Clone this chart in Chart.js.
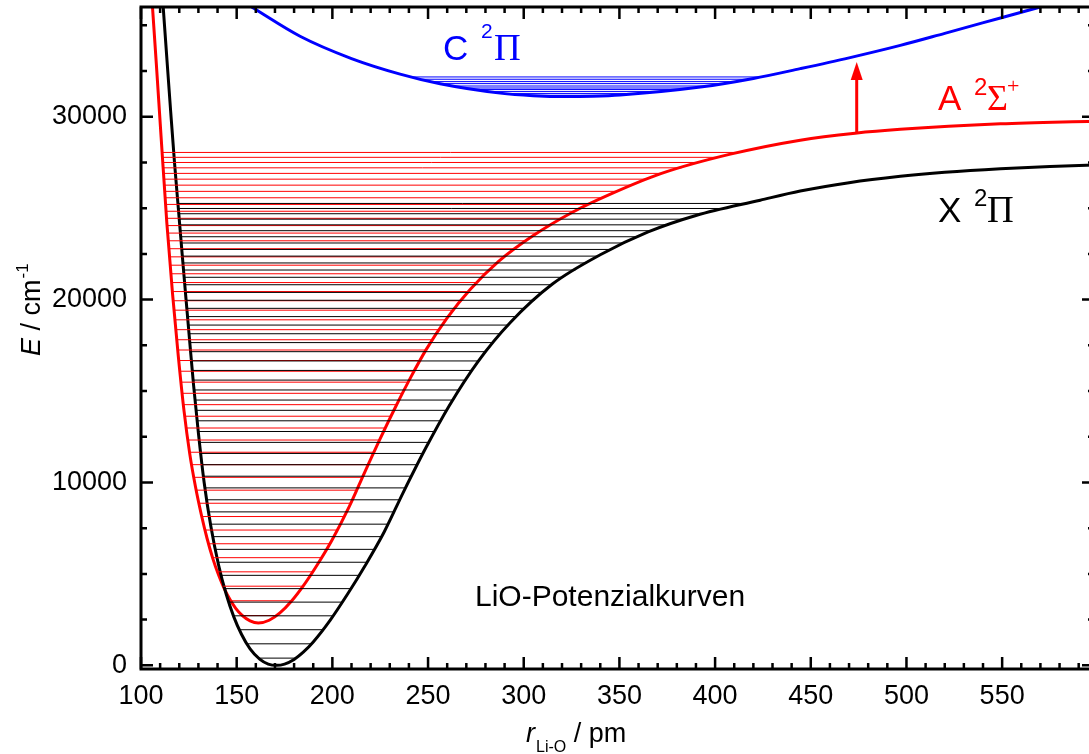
<!DOCTYPE html>
<html>
<head>
<meta charset="utf-8">
<script src="https://cdn.jsdelivr.net/npm/chart.js@4.4.1/dist/chart.umd.min.js"></script>
<style>
  html, body { margin: 0; padding: 0; background: #fff; overflow: hidden; }
  #wrap { position: relative; width: 1100px; height: 754px; }
</style>
</head>
<body>
<div id="wrap"><canvas id="chart" width="1100" height="754"></canvas></div>
<script>
// --------------------
// Potential curves (r in pm, E in cm^-1)
// --------------------
const xStateR = [111.6, 113.5, 115.5, 117.5, 119.5, 121.5, 123.5, 125.5, 127.5, 130.0, 133.0, 136.5, 140.5, 144.5, 148.5, 152.5, 157.0, 162.0, 166.5, 170.9,
  175.0, 180.0, 184.8, 190.0, 198.8, 208.3, 217.0, 227.0, 237.0, 249.0, 261.0, 276.0, 293.0, 315.0, 340.0, 365.0, 390.0, 423.6, 444.5, 470.0, 496.8, 520.0, 549.1, 575.0, 598.0];
const xStateE = [36000, 33200, 30300, 27500, 25000, 22500, 20050, 17650, 15300, 12700, 10000, 7600, 5500, 3900, 2650, 1700, 900, 340, 70, 0,
  70, 324, 718, 1278, 2459, 3954, 5434, 7278, 9447, 11923, 14186, 16600, 18750, 20850, 22450, 23700, 24600, 25436, 25936, 26394, 26739, 26959, 27156, 27281, 27362];

const aStateR = [106.0, 108.0, 110.5, 113.5, 116.5, 119.5, 122.5, 125.5, 128.5, 131.5, 134.5, 137.5, 140.5, 143.5, 146.5, 149.5, 153.0, 157.0, 161.3,
  167.0, 172.6, 178.7, 184.8, 191.8, 199.7, 209.0, 217.0, 225.0, 233.0, 241.0, 249.0, 260.0, 272.0, 287.0, 305.0, 325.0, 345.0, 372.0, 408.0, 444.5, 473.2, 496.8, 549.1, 598.0];
const aStateE = [36000, 32900, 28900, 24200, 20300, 16900, 13900, 11550, 9750, 8250, 6950, 5850, 4950, 4200, 3600, 3120, 2720, 2430, 2313,
  2465, 2865, 3517, 4344, 5446, 6828, 8719, 10582, 12398, 14129, 15760, 17264, 19000, 20550, 22100, 23500, 24750, 25750, 26900, 27953, 28719, 29102, 29314, 29615, 29759];

const cStateR = [157.8, 183.1, 210.0, 235.4, 256.3, 287.7, 305.0, 322.0, 336.0, 350.4, 392.3, 420.0, 444.5, 470.0, 496.8, 520.0, 549.1, 576.8];
const cStateE = [36000, 34400, 33180, 32330, 31800, 31290, 31150, 31100, 31120, 31185, 31620, 32090, 32630, 33220, 33900, 34560, 35400, 36200];

// Vibrational levels (cm^-1)
const xLevels = [395, 1177, 1948, 2708, 3457, 4195, 4922, 5638, 6343, 7037, 7720, 8392, 9053, 9703, 10342, 10970, 11587, 12193, 12788, 13372,
  13945, 14507, 15058, 15598, 16127, 16645, 17152, 17648, 18133, 18607, 19070, 19522, 19963, 20393, 20812, 21220, 21617, 22003, 22378, 22742,
  23095, 23437, 23768, 24088, 24397, 24695, 24982, 25258];
const aLevels = [2722, 3531, 4328, 5113, 5887, 6649, 7399, 8137, 8864, 9579, 10282, 10974, 11653, 12321, 12978, 13622, 14255, 14876, 15485, 16083,
  16668, 17243, 17805, 18355, 18894, 19421, 19937, 20440, 20932, 21412, 21881, 22337, 22782, 23216, 23637, 24047, 24445, 24831, 25205, 25568,
  25919, 26258, 26586, 26902, 27206, 27498, 27779, 28047];
const cLevels = [31170, 31265, 31375, 31485, 31570, 31680, 31810, 31920, 32050, 32175];

// Excitation arrow A -> C
const arrowR = 474;
const arrowE = [29110, 32990];

// Axis ticks
const xTicks = [100, 150, 200, 250, 300, 350, 400, 450, 500, 550];
const yTicks = [0, 10000, 20000, 30000];

const X_MIN = 100, X_MAX = 598;
const Y_MIN = -200, Y_MAX = 36000;

const BLACK = '#000000';
const RED = '#ff0000';
const BLUE = '#0000ff';
const SANS = 'Liberation Sans, Arial, sans-serif';
const SERIF = 'Liberation Serif, Times New Roman, serif';

// --------------------
// Helpers
// --------------------
function toPoints(rs, es) {
  return rs.map((r, i) => ({ x: r, y: es[i] }));
}

// inner / outer crossing of a horizontal level with a well
function turningPoints(rs, es, level) {
  const iMin = es.indexOf(Math.min(...es));
  let inner = rs[0];
  let outer = rs[rs.length - 1];
  for (let i = iMin; i > 0; i--) {
    if (es[i - 1] >= level) {
      inner = rs[i] + (rs[i - 1] - rs[i]) * (level - es[i]) / (es[i - 1] - es[i]);
      break;
    }
  }
  for (let i = iMin; i < rs.length - 1; i++) {
    if (es[i + 1] >= level) {
      outer = rs[i] + (rs[i + 1] - rs[i]) * (level - es[i]) / (es[i + 1] - es[i]);
      break;
    }
  }
  return [inner, outer];
}

function levelSets(levels, rs, es, color) {
  return levels.map(E => {
    const [a, b] = turningPoints(rs, es, E);
    return {
      data: [{ x: a, y: E }, { x: b, y: E }],
      borderColor: color,
      borderWidth: 1,
      pointRadius: 0,
      showLine: true
    };
  });
}

function curveSet(rs, es, color) {
  return {
    data: toPoints(rs, es),
    borderColor: color,
    borderWidth: 3,
    pointRadius: 0,
    showLine: true,
    cubicInterpolationMode: 'monotone'
  };
}

// --------------------
// Frame, inward ticks and text
// --------------------
function drawText(ctx, text, x, y, font, color) {
  ctx.font = font;
  ctx.fillStyle = color;
  ctx.textAlign = 'left';
  ctx.textBaseline = 'alphabetic';
  ctx.fillText(text, x, y);
  return x + ctx.measureText(text).width;
}

const framePlugin = {
  id: 'frame',
  afterDatasetsDraw(chart) {
    const { ctx, chartArea: a, scales: { x, y } } = chart;
    ctx.save();

    // arrow head
    const ax = x.getPixelForValue(arrowR);
    const ay = y.getPixelForValue(arrowE[1]);
    ctx.fillStyle = RED;
    ctx.beginPath();
    ctx.moveTo(ax, ay);
    ctx.lineTo(ax - 6, ay + 18);
    ctx.lineTo(ax + 6, ay + 18);
    ctx.closePath();
    ctx.fill();

    ctx.strokeStyle = BLACK;
    ctx.lineWidth = 3;
    ctx.strokeRect(a.left, a.top, a.right - a.left, a.bottom - a.top);

    ctx.lineWidth = 2.5;
    ctx.beginPath();
    for (let v = 100; v <= X_MAX; v += 10) {
      const px = x.getPixelForValue(v);
      const len = v % 50 === 0 ? 12 : 6;
      ctx.moveTo(px, a.bottom); ctx.lineTo(px, a.bottom - len);
      ctx.moveTo(px, a.top); ctx.lineTo(px, a.top + len);
    }
    for (let v = 0; v <= Y_MAX; v += 2500) {
      const py = y.getPixelForValue(v);
      const len = v % 10000 === 0 ? 12 : 6;
      ctx.moveTo(a.left, py); ctx.lineTo(a.left + len, py);
      ctx.moveTo(a.right, py); ctx.lineTo(a.right - len, py);
    }
    ctx.stroke();

    // state labels
    drawText(ctx, 'C', 443, 60, `35px ${SANS}`, BLUE);
    drawText(ctx, '2', 481, 38, `21px ${SANS}`, BLUE);
    drawText(ctx, 'Π', 494, 60, `37px ${SERIF}`, BLUE);

    drawText(ctx, 'A', 938, 110, `35px ${SANS}`, RED);
    drawText(ctx, '2', 974, 95, `24px ${SANS}`, RED);
    let cx = drawText(ctx, 'Σ', 987, 110, `36px ${SERIF}`, RED);
    drawText(ctx, '+', cx - 1, 93, `22px ${SERIF}`, RED);

    drawText(ctx, 'X', 938, 222, `35px ${SANS}`, BLACK);
    drawText(ctx, '2', 974, 206, `24px ${SANS}`, BLACK);
    drawText(ctx, 'Π', 987, 222, `37px ${SERIF}`, BLACK);

    drawText(ctx, 'LiO-Potenzialkurven', 475, 606, `30px ${SANS}`, BLACK);

    // x axis title
    cx = drawText(ctx, 'r', 526, 742, `italic 27px ${SANS}`, BLACK);
    cx = drawText(ctx, 'Li-O', cx + 1, 752, `16px ${SANS}`, BLACK);
    drawText(ctx, ' / pm', cx, 742, `27px ${SANS}`, BLACK);

    // y axis title
    ctx.translate(40, 356);
    ctx.rotate(-Math.PI / 2);
    cx = drawText(ctx, 'E', 0, 0, `italic 27px ${SANS}`, BLACK);
    cx = drawText(ctx, ' / cm', cx, 0, `27px ${SANS}`, BLACK);
    drawText(ctx, '-1', cx + 1, -12, `17px ${SANS}`, BLACK);

    ctx.restore();
  }
};

// --------------------
// Chart
// --------------------
const datasets = [
  ...levelSets(xLevels, xStateR, xStateE, BLACK),
  ...levelSets(aLevels, aStateR, aStateE, RED),
  ...levelSets(cLevels, cStateR, cStateE, BLUE),
  curveSet(xStateR, xStateE, BLACK),
  curveSet(aStateR, aStateE, RED),
  curveSet(cStateR, cStateE, BLUE),
  {
    data: [{ x: arrowR, y: arrowE[0] }, { x: arrowR, y: arrowE[1] - 900 }],
    borderColor: RED,
    borderWidth: 3,
    pointRadius: 0,
    showLine: true
  }
];

new Chart(document.getElementById('chart'), {
  type: 'scatter',
  data: { datasets },
  options: {
    responsive: false,
    animation: false,
    devicePixelRatio: 1,
    layout: { padding: { left: 0, right: 6, top: 7, bottom: 0 } },
    plugins: { legend: { display: false }, tooltip: { enabled: false } },
    scales: {
      x: {
        type: 'linear',
        min: X_MIN,
        max: X_MAX,
        afterFit: s => { s.height = 85; s.paddingLeft = 0; s.paddingRight = 0; },
        afterBuildTicks: s => { s.ticks = xTicks.map(v => ({ value: v })); },
        grid: { display: false, drawTicks: false },
        border: { display: false },
        ticks: {
          padding: 11,
          color: BLACK,
          font: { family: SANS, size: 27 },
          maxRotation: 0,
          autoSkip: false,
          callback: v => String(v)
        }
      },
      y: {
        type: 'linear',
        min: Y_MIN,
        max: Y_MAX,
        afterFit: s => { s.width = 141; s.paddingTop = 0; s.paddingBottom = 0; },
        afterBuildTicks: s => { s.ticks = yTicks.map(v => ({ value: v })); },
        grid: { display: false, drawTicks: false },
        border: { display: false },
        ticks: {
          padding: 14,
          color: BLACK,
          font: { family: SANS, size: 27 },
          autoSkip: false,
          callback: v => String(v)
        }
      }
    }
  },
  plugins: [framePlugin]
});
</script>
</body>
</html>
